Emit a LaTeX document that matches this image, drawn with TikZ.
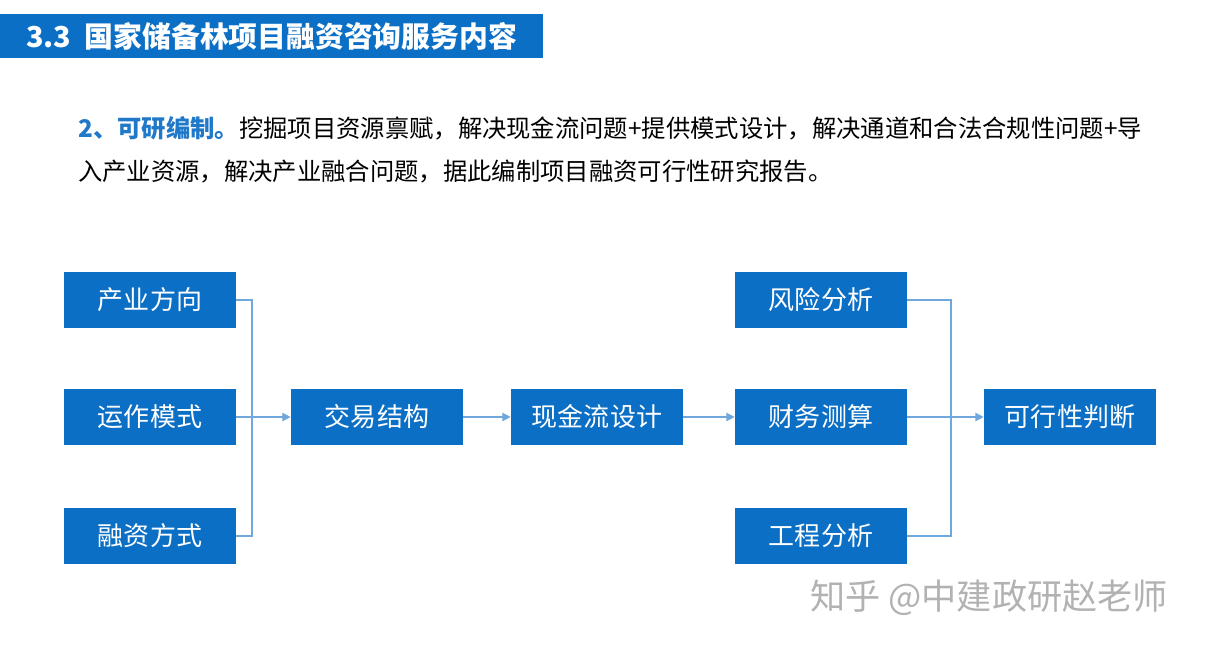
\documentclass[tikz,border=0pt]{standalone}
\usepackage{fontspec}
\setmainfont{Noto Sans CJK SC}
\usetikzlibrary{positioning,calc,arrows.meta}
\definecolor{boxblue}{HTML}{0B6FC6}
\definecolor{lineblue}{HTML}{6FA8DC}
\definecolor{textblue}{HTML}{1F78C8}

\begin{document}
\begin{tikzpicture}[x=0.025cm,y=-0.025cm,
    % box styles
    stage/.style={fill=boxblue, draw=none, text=white, minimum width=4.3cm, minimum height=1.4cm,
        font=\fontsize{18.5}{20}\selectfont, inner sep=0pt},
    link/.style={draw=lineblue, line width=0.9pt},
    arrow/.style={link, -{Triangle[length=6pt,width=6pt]}},
    para/.style={anchor=west, font=\fontsize{17.3}{20}\selectfont, inner sep=0pt},
]
\useasboundingbox (0,0) rectangle (1205,647);

% Title bar
\fill[boxblue] (0,14) rectangle (543,58);
\node[anchor=west, text=white, font=\bfseries\fontsize{20.5}{22}\selectfont, inner sep=0pt] (title) at (26,36)
    {3.3\ \ 国家储备林项目融资咨询服务内容};

% Description
\node[para] (line1) at (78,128) {\textcolor{textblue}{\bfseries 2、可研编制。}挖掘项目资源禀赋，解决现金流问题+提供模式设计，解决通道和合法合规性问题+导};
\node[para] (line2) at (78,171) {入产业资源，解决产业融合问题，据此编制项目融资可行性研究报告。};

% Boxes
\node[stage] (dir) at (150,300) {产业方向};
\node[stage] (mode) at (150,417) {运作模式};
\node[stage] (fin) at (150,536) {融资方式};
\node[stage] (deal) at (377,417) {交易结构};
\node[stage] (cash) at (597,417) {现金流设计};
\node[stage] (risk) at (821,300) {风险分析};
\node[stage] (calc) at (821,417) {财务测算};
\node[stage] (eng) at (821,536) {工程分析};
\node[stage] (feas) at (1070,417) {可行性判断};

% Connectors
\coordinate (jl) at (252,417);
\coordinate (jr) at (951,417);
\draw[link] (dir.east) -| (jl);
\draw[link] (fin.east) -| (jl);
\draw[link] (mode.east) -- (jl);
\draw[arrow] (jl) -- (deal.west);
\draw[arrow] (deal) -- (cash);
\draw[arrow] (cash) -- (calc);
\draw[link] (risk.east) -| (jr);
\draw[link] (eng.east) -| (jr);
\draw[link] (calc.east) -- (jr);
\draw[arrow] (jr) -- (feas.west);

% Watermark
\node[anchor=west, text=black!30, font=\fontsize{25}{28}\selectfont, inner sep=0pt] (mark) at (810,598) {知乎 @中建政研赵老师};
\end{tikzpicture}
\end{document}
